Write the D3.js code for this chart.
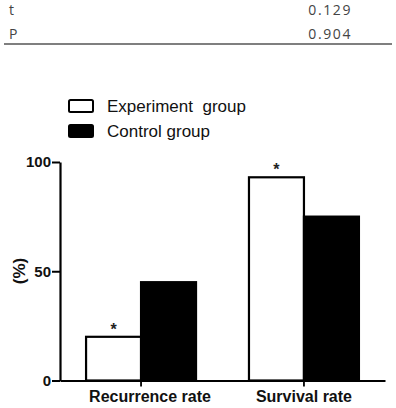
<!DOCTYPE html>
<html>
<head>
<meta charset="utf-8">
<script src="https://cdn.jsdelivr.net/npm/d3@7"></script>
<style>
  html, body { margin: 0; padding: 0; background: #fff; }
  svg { display: block; }
</style>
</head>
<body>
<svg id="chart" width="396" height="408"></svg>
<script>
// ---- data ----
const tableLabels = ["t", "P"];
const tableValues = ["0.129", "0.904"];
const categories = ["Recurrence rate", "Survival rate"];
const groups = ["Experiment  group", "Control group"];
const experimentValues = [20, 93];
const controlValues = [45, 75];
const significance = ["*", "*"];
const yTicks = [0, 50, 100];

const svg = d3.select("#chart");
const font = "'Liberation Sans', Arial, sans-serif";

// ---- top table fragment ----
const tbl = svg.append("g");
tbl.selectAll("text.lab").data(tableLabels).join("text")
  .attr("class", "lab")
  .attr("x", 9).attr("y", (d, i) => 15 + i * 23.5)
  .attr("font-family", "'Open Sans', sans-serif").attr("font-size", 14)
  .attr("fill", "#444").text(d => d);
tbl.selectAll("text.val").data(tableValues).join("text")
  .attr("class", "val")
  .attr("x", 352).attr("y", (d, i) => 15 + i * 23.5)
  .attr("text-anchor", "end")
  .attr("letter-spacing", 1.6)
  .attr("font-family", "'Open Sans', sans-serif").attr("font-size", 14)
  .attr("fill", "#444").text(d => d);
tbl.append("line").attr("x1", 4).attr("x2", 392).attr("y1", 44).attr("y2", 44)
  .attr("stroke", "#555").attr("stroke-width", 1.5);

// ---- scales ----
const x0 = d3.scaleBand().domain(categories).range([60, 385])
  .paddingInner(0.325).paddingOuter(0.16);
const x1 = d3.scaleBand().domain(groups).range([0, x0.bandwidth()]).padding(0);
const y = d3.scaleLinear().domain([0, 100]).range([380.5, 162]);

const rows = categories.map((c, i) => ({
  cat: c,
  vals: [
    { g: groups[0], v: experimentValues[i], sig: significance[i] },
    { g: groups[1], v: controlValues[i] }
  ]
}));

const fills = { [groups[0]]: "#fff", [groups[1]]: "#000" };

// ---- bars ----
const gBars = svg.append("g");
const cg = gBars.selectAll("g").data(rows).join("g")
  .attr("transform", d => `translate(${x0(d.cat)},0)`);
cg.selectAll("rect").data(d => d.vals).join("rect")
  .attr("x", d => x1(d.g))
  .attr("y", d => y(d.v))
  .attr("width", x1.bandwidth())
  .attr("height", d => y(0) - y(d.v))
  .attr("fill", d => fills[d.g])
  .attr("stroke", "#000").attr("stroke-width", 2.2);
cg.selectAll("text.sig").data(d => d.vals.filter(v => v.sig)).join("text")
  .attr("class", "sig")
  .attr("x", d => x1(d.g) + x1.bandwidth() / 2)
  .attr("y", d => y(d.v) - 2)
  .attr("text-anchor", "middle")
  .attr("font-family", font).attr("font-size", 16).attr("font-weight", "bold")
  .attr("fill", "#222")
  .text(d => d.sig);

// ---- axes ----
const yAxis = svg.append("g").attr("transform", "translate(60,0)")
  .call(d3.axisLeft(y).tickValues(yTicks).tickSize(8).tickSizeOuter(0).tickPadding(1));
yAxis.select(".domain").attr("stroke-width", 2.2).attr("stroke", "#000");
yAxis.selectAll(".tick line").attr("stroke-width", 2).attr("stroke", "#000");
yAxis.selectAll(".tick text").attr("font-family", font).attr("font-size", 15)
  .attr("font-weight", "bold").attr("fill", "#111");

const xAxis = svg.append("g").attr("transform", "translate(0,380.5)")
  .call(d3.axisBottom(x0).tickSize(6).tickSizeOuter(0).tickPadding(4));
xAxis.select(".domain").attr("stroke-width", 2.2).attr("stroke", "#000");
xAxis.selectAll(".tick line").attr("stroke-width", 1.8).attr("stroke", "#000");
xAxis.selectAll(".tick text").attr("font-family", font).attr("font-size", 16)
  .attr("font-weight", "bold").attr("fill", "#111")
  .attr("dx", (d, i) => (i === 0 ? 9 : 0));

// y label
svg.append("text")
  .attr("transform", "translate(25,271) rotate(-90)")
  .attr("text-anchor", "middle")
  .attr("font-family", font).attr("font-size", 17).attr("font-weight", "bold")
  .attr("fill", "#111").text("(%)");

// ---- legend ----
const leg = svg.append("g");
const li = leg.selectAll("g").data(groups).join("g")
  .attr("transform", (d, i) => `translate(0,${i * 25})`);
li.append("rect").attr("x", 69).attr("y", 100).attr("width", 24).attr("height", 12)
  .attr("rx", 1.5)
  .attr("fill", d => fills[d]).attr("stroke", "#000").attr("stroke-width", 2);
li.append("text").attr("x", 107).attr("y", 112)
  .attr("font-family", font).attr("font-size", 17).attr("fill", "#111")
  .attr("xml:space", "preserve").style("white-space", "pre")
  .text(d => d);
</script>
</body>
</html>
